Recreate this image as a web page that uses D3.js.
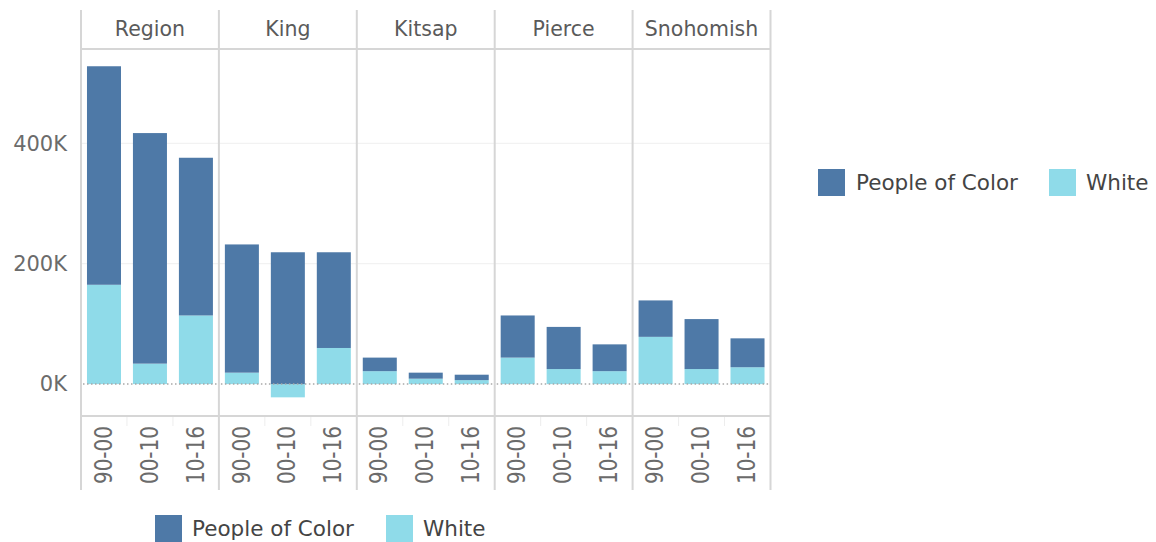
<!DOCTYPE html>
<html>
<head>
<meta charset="utf-8">
<script src="https://cdn.jsdelivr.net/npm/d3@7"></script>
<style>
  html, body { margin: 0; padding: 0; background: #fff; }
  svg { display: block; font-family: "DejaVu Sans", sans-serif; }
</style>
</head>
<body>
<svg id="chart" width="1156" height="542"></svg>
<script>
// ---- data ----
const counties = ["Region", "King", "Kitsap", "Pierce", "Snohomish"];
const periods = ["90-00", "00-10", "10-16"];
const seriesNames = ["People of Color", "White"];
// values in persons, in order counties x periods
const peopleOfColor = [
  [363000, 383000, 262000],
  [213000, 219000, 159000],
  [22500, 10000, 9000],
  [70000, 70000, 44500],
  [60500, 83000, 48000]
];
const white = [
  [165000, 34000, 114000],
  [19000, -22000, 60000],
  [21500, 9000, 6600],
  [44000, 25000, 21500],
  [78500, 25000, 28000]
];
const yTicks = [0, 200000, 400000];

// ---- layout ----
const colors = { "People of Color": "#4e79a7", "White": "#8fdbe9" };
const left = 81, right = 770.5, headerTop = 10, headerBottom = 49,
      plotBottom = 416, labelBottom = 490;
const lineColor = "#d6d6d6";

const svg = d3.select("#chart");

const xPanel = d3.scaleBand().domain(counties).range([left, right]).padding(0);
const xInner = d3.scaleBand().domain(periods).range([0, xPanel.bandwidth()])
  .paddingInner(0.26).paddingOuter(0.13);
const y = d3.scaleLinear().domain([-53000, 555000]).range([plotBottom, 50]);

// gridlines
svg.append("g").selectAll("line").data(yTicks.filter(d => d !== 0)).join("line")
  .attr("x1", left).attr("x2", right)
  .attr("y1", d => y(d)).attr("y2", d => y(d))
  .attr("stroke", "#efefef").attr("stroke-width", 1);

// y axis labels
const yAxis = d3.axisLeft(y).tickValues(yTicks).tickSize(0).tickPadding(14)
  .tickFormat(d => (d / 1000) + "K");
const gy = svg.append("g").attr("transform", `translate(${left},0)`).call(yAxis);
gy.select(".domain").remove();
gy.selectAll("text").attr("fill", "#6b6b6b").style("font-size", "21px")
  .style("font-family", "DejaVu Sans, sans-serif");

// data rows for stacking
const rows = [];
counties.forEach((c, i) => periods.forEach((p, j) => {
  rows.push({ county: c, period: p, "People of Color": peopleOfColor[i][j], "White": white[i][j] });
}));
const stack = d3.stack().keys(["White", "People of Color"]).offset(d3.stackOffsetDiverging);
const stacked = stack(rows);

const barsG = svg.append("g");
stacked.forEach(layer => {
  barsG.selectAll(null).data(layer).join("rect")
    .attr("x", d => xPanel(d.data.county) + xInner(d.data.period))
    .attr("width", xInner.bandwidth())
    .attr("y", d => y(Math.max(d[0], d[1])))
    .attr("height", d => Math.abs(y(d[0]) - y(d[1])))
    .attr("fill", colors[layer.key]);
});

// zero dotted line per panel
svg.append("g").selectAll("line").data(counties).join("line")
  .attr("x1", d => xPanel(d) + 2).attr("x2", d => xPanel(d) + xPanel.bandwidth() - 2)
  .attr("y1", y(0)).attr("y2", y(0))
  .attr("stroke", "#a8a8a8").attr("stroke-width", 1.5).attr("stroke-dasharray", "1.5,2.5");

// faint band separators in the label area
const sep = [];
counties.forEach(c => periods.slice(1).forEach(p => sep.push(xPanel(c) + xInner(p) - xInner.step() * 0.13)));
svg.append("g").selectAll("line").data(sep).join("line")
  .attr("x1", d => d).attr("x2", d => d)
  .attr("y1", plotBottom).attr("y2", plotBottom + 10)
  .attr("stroke", "#ededed").attr("stroke-width", 1);

// frame lines
const frame = svg.append("g").attr("stroke", lineColor).attr("stroke-width", 2);
const vx = counties.map(c => xPanel(c)).concat([right]);
frame.selectAll(".v").data(vx).join("line")
  .attr("x1", d => d).attr("x2", d => d)
  .attr("y1", headerTop).attr("y2", labelBottom);
frame.append("line").attr("x1", left).attr("x2", right).attr("y1", headerBottom).attr("y2", headerBottom);
frame.append("line").attr("x1", left).attr("x2", right).attr("y1", plotBottom).attr("y2", plotBottom);

// header labels
svg.append("g").selectAll("text").data(counties).join("text")
  .attr("x", d => xPanel(d) + xPanel.bandwidth() / 2)
  .attr("y", 36)
  .attr("text-anchor", "middle")
  .attr("fill", "#5a5a5a")
  .style("font-size", "20.5px")
  .text(d => d);

// rotated period labels
const lab = svg.append("g");
counties.forEach(c => {
  lab.selectAll(null).data(periods).join("text")
    .attr("transform", p => `translate(${xPanel(c) + xInner(p) + xInner.bandwidth() / 2 - 1},426) rotate(-90) scale(1,1.2)`)
    .attr("text-anchor", "end")
    .attr("dy", "0.36em")
    .attr("fill", "#6b6b6b")
    .style("font-size", "20px")
    .text(p => p);
});

// legends
function legend(xs, yTop, size, textX) {
  const g = svg.append("g");
  seriesNames.forEach((s, i) => {
    g.append("rect").attr("x", xs[i]).attr("y", yTop).attr("width", size).attr("height", size)
      .attr("fill", colors[s]);
    g.append("text").attr("x", textX[i]).attr("y", yTop + size / 2)
      .attr("dy", "0.36em").attr("fill", "#444")
      .style("font-size", "21.5px").text(s);
  });
}
legend([818, 1049], 169, 27, [856, 1086]);
legend([155, 386], 515, 27, [192, 423]);
</script>
</body>
</html>
